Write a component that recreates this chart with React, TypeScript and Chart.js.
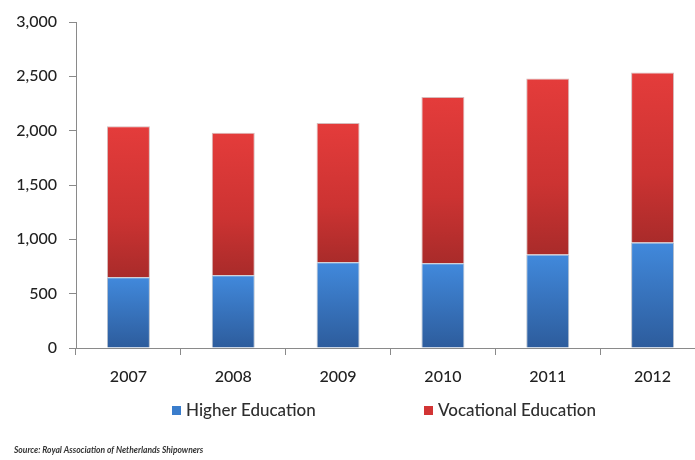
import React, { useEffect, useRef } from "react";
import { Chart, registerables } from "chart.js";

Chart.register(...registerables);

const years = ["2007", "2008", "2009", "2010", "2011", "2012"];
const higherEducation = [650, 670, 790, 780, 860, 970];
const vocationalEducation = [1390, 1310, 1280, 1530, 1620, 1565];
const yTicks = [0, 500, 1000, 1500, 2000, 2500, 3000];
const seriesNames = ["Higher Education", "Vocational Education"];
const sourceText = "Source: Royal Association of Netherlands Shipowners";

const FONT = "Lato, 'Open Sans', 'Liberation Sans', sans-serif";

function segGradient(ctx: any, which: number) {
  const chart = ctx.chart;
  const y = chart.scales && chart.scales.y;
  if (!y || ctx.dataIndex === undefined) return which === 0 ? "#3a7fd0" : "#d83535";
  const i = ctx.dataIndex;
  const lo = which === 0 ? 0 : higherEducation[i];
  const hi = which === 0 ? higherEducation[i] : higherEducation[i] + vocationalEducation[i];
  const yTop = y.getPixelForValue(hi);
  const yBot = y.getPixelForValue(lo);
  if (!isFinite(yTop) || !isFinite(yBot)) return which === 0 ? "#3a7fd0" : "#d83535";
  const g = chart.ctx.createLinearGradient(0, yTop, 0, yBot);
  if (which === 0) {
    g.addColorStop(0, "#4189dc");
    g.addColorStop(1, "#2d5c9c");
  } else {
    g.addColorStop(0, "#e43c3b");
    g.addColorStop(0.6, "#cc3332");
    g.addColorStop(1, "#a92b2a");
  }
  return g;
}

const legendPlugin = {
  id: "customLegend",
  afterDraw(chart: any) {
    const c = chart.ctx;
    c.save();
    c.font = `500 17px ${FONT}`;
    c.textBaseline = "middle";
    const items = [
      { x: 172, color: "#3a7dcc", label: seriesNames[0] },
      { x: 424, color: "#d23434", label: seriesNames[1] },
    ];
    items.forEach((it) => {
      c.fillStyle = it.color;
      c.fillRect(it.x, 406, 9, 9);
      c.fillStyle = "#2e2e2e";
      c.fillText(it.label, it.x + 14, 411);
    });
    c.font = `italic bold 8.5px ${FONT}`;
    c.fillStyle = "#333333";
    c.fillText(sourceText, 14, 450);
    c.restore();
  },
};

export default function App() {
  const ref = useRef<HTMLCanvasElement>(null);
  useEffect(() => {
    if (!ref.current) return;
    const chart = new Chart(ref.current, {
      type: "bar",
      data: {
        labels: years,
        datasets: [
          {
            label: seriesNames[0],
            data: higherEducation,
            backgroundColor: (ctx: any) => segGradient(ctx, 0),
            borderColor: "rgba(40,70,110,0.35)",
            borderWidth: 1,
            barPercentage: 0.41,
            categoryPercentage: 1,
          },
          {
            label: seriesNames[1],
            data: vocationalEducation,
            backgroundColor: (ctx: any) => segGradient(ctx, 1),
            borderColor: "rgba(120,30,30,0.3)",
            borderWidth: 1,
            barPercentage: 0.41,
            categoryPercentage: 1,
          },
        ],
      },
      options: {
        responsive: false,
        animation: false,
        layout: { padding: { top: 22, right: 7, bottom: 67, left: 0 } },
        plugins: {
          legend: { display: false },
          tooltip: { enabled: false },
        },
        scales: {
          x: {
            stacked: true,
            grid: {
              display: true,
              drawOnChartArea: false,
              drawTicks: true,
              tickLength: 7,
              color: "#8a8a8a",
              offset: true,
            },
            border: { display: true, color: "#8a8a8a", width: 1 },
            ticks: {
              color: "#222222",
              font: { family: FONT, size: 16, weight: "500" },
              padding: 12,
            },
            afterFit: (s: any) => {
              s.height = 45;
            },
          },
          y: {
            stacked: true,
            min: 0,
            max: 3000,
            afterBuildTicks: (s: any) => {
              s.ticks = yTicks.map((v) => ({ value: v }));
            },
            grid: {
              display: true,
              drawOnChartArea: false,
              drawTicks: true,
              tickLength: 7,
              color: "#8a8a8a",
            },
            border: { display: true, color: "#8a8a8a", width: 1 },
            ticks: {
              color: "#222222",
              font: { family: FONT, size: 16, weight: "500" },
              padding: 12,
              callback: (v: any) => Number(v).toLocaleString("en-US"),
            },
            afterFit: (s: any) => {
              s.width = 76;
            },
          },
        },
      },
      plugins: [legendPlugin],
    });
    return () => chart.destroy();
  }, []);
  return (
    <div
      style={{
        position: "fixed",
        left: 0,
        top: 0,
        width: 695,
        height: 460,
        overflow: "hidden",
        background: "#ffffff",
      }}
    >
      <canvas ref={ref} width={712} height={460} style={{ display: "block" }} />
    </div>
  );
}
